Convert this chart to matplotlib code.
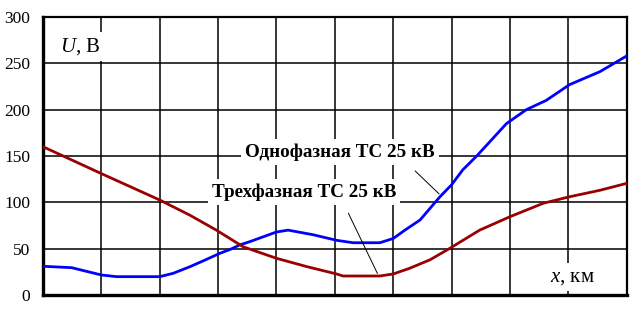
import matplotlib.pyplot as plt

# Однофазная ТС 25 кВ (blue)
x1 = [0, 0.49, 1.0, 1.26, 2.0, 2.23, 2.52, 2.80, 3.03, 3.2, 3.37, 3.54, 4.0, 4.2,
      4.63, 5.03, 5.31, 5.77, 6.0, 6.2, 6.46, 6.8, 7.0, 7.19, 7.43, 7.94, 8.28,
      8.62, 9.02, 9.54, 10.0]
y1 = [31, 29.5, 21.6, 19.8, 19.8, 23.4, 30.6, 38.4, 45, 49, 54, 57.5, 68, 70,
      65, 59, 56.4, 56.4, 61, 70, 81, 106, 119, 135, 150, 185, 200,
      210, 227, 241, 258]
# Трехфазная ТС 25 кВ (dark red)
x2 = [0, 1.0, 2.0, 2.52, 2.97, 3.2, 3.43, 4.0, 4.52, 5.03, 5.14, 5.77, 6.0, 6.28,
      6.63, 6.97, 7.48, 8.0, 8.57, 9.02, 9.54, 10.0]
y2 = [160, 131, 102.5, 86, 70, 61, 52, 39.6, 30.6, 22.7, 20.5, 20.5, 22.7, 28.8,
      38, 50.4, 70, 84.5, 99, 106, 113, 120.5]

yticks = [0, 50, 100, 150, 200, 250, 300]

plt.rcParams['font.family'] = ['Liberation Serif', 'DejaVu Serif']
plt.rcParams['mathtext.fontset'] = 'custom'
plt.rcParams['mathtext.it'] = 'Liberation Serif:italic'
plt.rcParams['mathtext.rm'] = 'Liberation Serif'

fig = plt.figure(figsize=(6.35, 3.13), dpi=100)
ax = fig.add_axes([0.0677, 0.0575, 0.9193, 0.8882])

ax.plot(x1, y1, color='#0000ff', lw=2.0, zorder=3)
ax.plot(x2, y2, color='#990000', lw=2.0, zorder=3)

ax.set_xlim(0, 10)
ax.set_ylim(0, 300)
ax.set_xticks(range(11))
ax.set_xticklabels([])
ax.set_yticks(yticks)
ax.set_yticklabels([str(v) for v in yticks], fontsize=12.5)
ax.tick_params(length=0, pad=9)
ax.grid(True, color='black', lw=1.1)
for s in ['left', 'bottom']:
    ax.spines[s].set_linewidth(2.4)
for s in ['top', 'right']:
    ax.spines[s].set_linewidth(1.6)

box = dict(facecolor='white', edgecolor='none', pad=3)
ax.text(5.09, 154, 'Однофазная ТС 25 кВ', ha='center', va='center',
        fontsize=13.8, fontweight='bold', bbox=box, zorder=4)
ax.text(4.47, 111, 'Трехфазная ТС 25 кВ', ha='center', va='center',
        fontsize=13.8, fontweight='bold', bbox=box, zorder=4)
ax.annotate('', xy=(6.82, 107), xytext=(6.34, 136),
            arrowprops=dict(arrowstyle='-', color='black', lw=0.7), zorder=4)
ax.annotate('', xy=(5.75, 20.5), xytext=(5.21, 91),
            arrowprops=dict(arrowstyle='-', color='black', lw=0.7), zorder=4)

ax.text(0.29, 268, '$\\mathit{U}$, В', fontsize=15, va='center', ha='left',
        bbox=box, zorder=4)
ax.text(8.68, 19.4, '$\\mathit{x}$, км', fontsize=15, va='center', ha='left',
        bbox=box, zorder=4)

fig.savefig('out.png', dpi=100)
